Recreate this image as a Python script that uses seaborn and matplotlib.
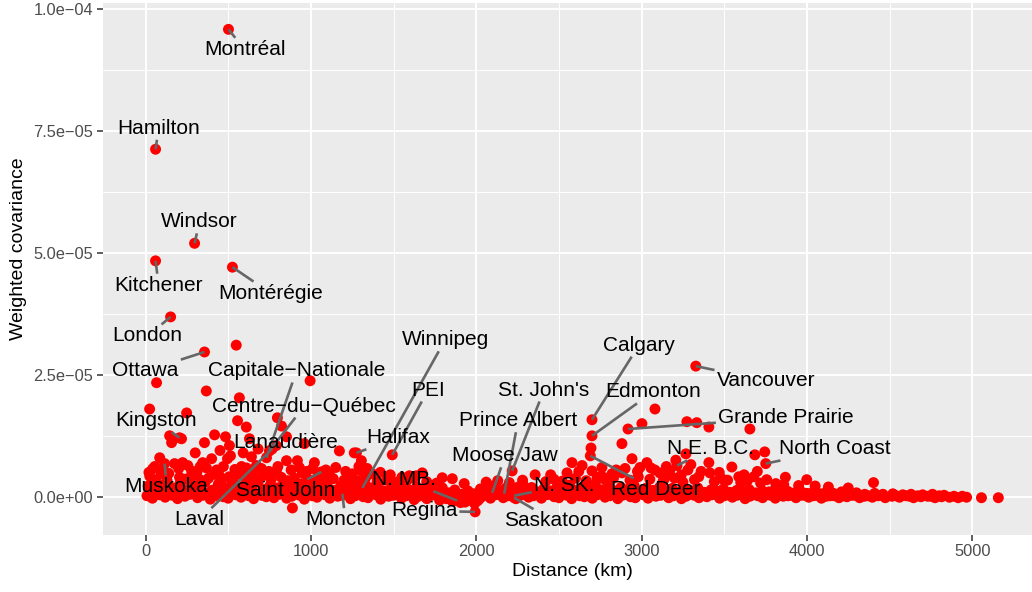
import numpy as np
import pandas as pd
import matplotlib
matplotlib.use("Agg")
import matplotlib.pyplot as plt
import seaborn as sns
from matplotlib.ticker import FixedLocator, FixedFormatter

# ---------------------------------------------------------------
# Data: distance between regions (km) and weighted covariance
# (covariance values are written in units of 1e-5)
# ---------------------------------------------------------------
city_names = ["Montréal", "Hamilton", "Windsor", "Kitchener", "Montérégie",
              "London", "Ottawa", "Capitale\u2212Nationale", "Centre\u2212du\u2212Québec",
              "Lanaudière", "Kingston", "Muskoka", "Laval", "Saint John",
              "Moncton", "Halifax", "Winnipeg", "PEI", "N. MB.", "Regina",
              "Moose Jaw", "Prince Albert", "St. John's", "Saskatoon", "N. SK.",
              "Calgary", "Edmonton", "Red Deer", "Vancouver", "Grande Prairie",
              "N.E. B.C.", "North Coast"]
city_km = [501, 60, 296, 60, 525,
           151, 356, 731, 749,
           790, 205, 115, 765, 1063,
           1190, 1275, 1311, 1492, 1885, 1993,
           2096, 2169, 2217, 2229, 2229,
           2700, 2700, 2690, 3328, 2918,
           3214, 3751]
city_cov = [9.59, 7.13, 5.20, 4.84, 4.71,
            3.69, 2.97, 0.80, 0.94,
            1.05, 1.21, 0.68, 0.98, 0.51,
            0.06, 0.90, 0.18, 0.86, -0.08, -0.31,
            0.08, 0.06, 0.53, -0.02, 0.02,
            1.58, 1.25, 0.84, 2.68, 1.39,
            0.64, 0.68]

# bulk of region pairs sitting close to zero
band_low = [(8, 0.02), (41, -0.03), (86, 0.04), (118, -0.01), (161, 0.03), (193, -0.04),
            (238, 0.01), (269, 0.05), (314, -0.02), (346, 0.03), (391, -0.05), (423, 0.02),
            (470, 0.00), (499, -0.03), (545, 0.04), (577, -0.01), (624, 0.02), (653, -0.04),
            (701, 0.03), (730, 0.00), (776, -0.02), (808, 0.05), (853, -0.03), (884, 0.01),
            (931, 0.03), (960, -0.05), (1008, 0.02), (1037, -0.01), (1085, 0.04), (1114, -0.03),
            (1162, 0.01), (1191, 0.03), (1239, -0.04), (1268, 0.02), (1316, 0.00), (1345, -0.02),
            (1393, 0.04), (1422, -0.05), (1470, 0.01), (1499, 0.03), (1547, -0.03), (1576, 0.02),
            (1624, -0.06), (1653, 0.01), (1701, -0.04), (1730, 0.03), (1778, -0.07), (1807, 0.00),
            (1855, -0.09), (1884, -0.02), (1932, -0.11), (1961, -0.05), (2009, -0.08), (2038, 0.01),
            (2086, -0.03), (2115, 0.04), (2163, -0.02), (2192, 0.02), (2240, -0.04), (2269, 0.03),
            (2317, -0.01), (2346, 0.02), (2394, -0.03), (2423, 0.04), (2471, 0.00), (2500, -0.02),
            (2548, 0.03), (2577, -0.04), (2625, 0.02), (2654, 0.00), (2702, -0.03), (2731, 0.04),
            (2779, -0.01), (2808, 0.02), (2856, -0.04), (2885, 0.03), (2933, 0.00), (2962, -0.02),
            (3010, 0.04), (3039, -0.03), (3087, 0.01), (3116, 0.03), (3164, -0.02), (3193, 0.02),
            (3241, -0.04), (3270, 0.01), (3318, 0.03), (3347, -0.02), (3395, 0.00), (3424, 0.04),
            (3472, -0.03), (3501, 0.02), (3549, -0.01), (3578, 0.03), (3626, -0.04), (3655, 0.01),
            (3703, 0.02), (3732, -0.02), (3780, 0.03), (3809, -0.03), (3857, 0.01), (3886, 0.02),
            (3934, -0.02), (3963, 0.03), (4011, -0.01), (4040, 0.02), (4088, -0.03), (4117, 0.01),
            (4165, 0.02), (4194, -0.02), (4242, 0.00), (4271, 0.03), (4319, -0.02), (4348, 0.01),
            (4396, -0.01), (4430, 0.02), (4474, -0.02), (4515, 0.01), (4560, -0.01), (4600, 0.02),
            (4645, -0.02), (4690, 0.00), (4730, 0.01), (4775, -0.02), (4815, 0.00), (4862, -0.01),
            (4915, -0.02), (4966, -0.01), (5056, -0.02), (5158, -0.02)]

band_fill = [(30, 0.10), (75, 0.06), (110, 0.14), (150, 0.08), (185, 0.12), (225, 0.07),
             (262, 0.15), (300, 0.09), (338, 0.12), (372, 0.06), (410, 0.14), (450, 0.08),
             (490, 0.11), (530, 0.07), (570, 0.13), (610, 0.09), (648, 0.12), (690, 0.06),
             (725, 0.15), (765, 0.08), (805, 0.11), (845, 0.07), (880, 0.14), (920, 0.09),
             (955, 0.12), (998, 0.06), (1035, 0.13), (1075, 0.08), (1110, 0.11), (1150, 0.07),
             (1188, 0.14), (1228, 0.09), (1265, 0.12), (1305, 0.06), (1340, 0.13), (1380, 0.08),
             (1418, 0.11), (1458, 0.07), (1495, 0.12), (1535, 0.09), (1572, 0.06), (1612, 0.10),
             (1650, 0.05), (1690, 0.09), (1728, 0.04), (1768, 0.07), (1820, -0.04), (1870, -0.06),
             (1905, -0.12), (1945, -0.08), (1990, -0.14), (2020, -0.04), (2060, 0.06), (2098, 0.10),
             (2135, 0.05), (2175, 0.09), (2210, 0.06), (2250, 0.10), (2288, 0.05), (2325, 0.09),
             (2362, 0.06), (2400, 0.10), (2440, 0.05), (2480, 0.09), (2515, 0.07), (2555, 0.11),
             (2590, 0.06), (2630, 0.10), (2670, 0.07), (2710, 0.12), (2745, 0.06), (2785, 0.10),
             (2825, 0.07), (2860, 0.11), (2900, 0.06), (2940, 0.10), (2978, 0.07), (3015, 0.11),
             (3055, 0.06), (3095, 0.09), (3132, 0.06), (3170, 0.08), (3210, 0.05), (3250, 0.08),
             (3288, 0.05), (3325, 0.07), (3365, 0.05), (3405, 0.08), (3442, 0.05), (3480, 0.07),
             (3520, 0.04), (3560, 0.07), (3598, 0.05), (3636, 0.07), (3675, 0.04), (3715, 0.06),
             (3752, 0.04), (3790, 0.06), (3830, 0.03), (3870, 0.05), (3908, 0.03), (3945, 0.05),
             (3985, 0.03), (4025, 0.05), (4062, 0.03), (4100, 0.04), (4140, 0.02), (4180, 0.04),
             (4220, 0.02), (4290, 0.03), (4370, 0.02), (4450, 0.03), (4540, 0.02), (4620, 0.01),
             (4670, 0.02), (4750, 0.01), (4800, 0.02), (4890, 0.01), (4940, 0.01)]

band_mid = [(15, 0.22), (52, 0.15), (70, 0.28), (100, 0.12), (135, 0.25), (172, 0.18),
            (210, 0.29), (250, 0.14), (285, 0.24), (325, 0.19), (360, 0.30), (400, 0.13),
            (440, 0.26), (480, 0.17), (520, 0.28), (560, 0.15), (600, 0.24), (640, 0.20),
            (680, 0.30), (715, 0.14), (755, 0.25), (795, 0.18), (835, 0.28), (870, 0.13),
            (910, 0.22), (948, 0.27), (990, 0.15), (1025, 0.24), (1065, 0.19), (1100, 0.29),
            (1140, 0.13), (1180, 0.23), (1220, 0.17), (1255, 0.27), (1295, 0.14), (1335, 0.22),
            (1370, 0.18), (1410, 0.28), (1450, 0.12), (1490, 0.21), (1525, 0.16), (1565, 0.26),
            (1605, 0.13), (1640, 0.20), (1680, 0.15), (1720, 0.24), (1760, 0.10), (1795, 0.18),
            (1835, 0.08), (1870, 0.14), (1910, 0.05), (1950, 0.12), (1985, 0.06), (2025, 0.16),
            (2065, 0.10), (2100, 0.22), (2140, 0.13), (2180, 0.18), (2215, 0.11), (2255, 0.20),
            (2295, 0.14), (2335, 0.19), (2370, 0.10), (2410, 0.17), (2450, 0.12), (2490, 0.21),
            (2530, 0.15), (2565, 0.24), (2605, 0.13), (2645, 0.20), (2685, 0.17), (2720, 0.26),
            (2760, 0.14), (2800, 0.21), (2840, 0.12), (2875, 0.19), (2915, 0.15), (2955, 0.23),
            (2995, 0.11), (3030, 0.18), (3070, 0.13), (3110, 0.20), (3150, 0.12), (3185, 0.17),
            (3225, 0.10), (3265, 0.15), (3305, 0.12), (3340, 0.18), (3380, 0.09), (3420, 0.14),
            (3460, 0.11), (3495, 0.16), (3535, 0.09), (3575, 0.13), (3615, 0.10), (3650, 0.15),
            (3690, 0.08), (3730, 0.12), (3770, 0.10), (3805, 0.14), (3845, 0.07), (3885, 0.11),
            (3925, 0.08), (3960, 0.12), (4000, 0.07), (4040, 0.10), (4080, 0.06), (4115, 0.09),
            (4160, 0.07), (4210, 0.10), (4255, 0.06), (4300, 0.08), (4350, 0.05), (4410, 0.07),
            (4460, 0.05), (4520, 0.06), (4580, 0.04), (4630, 0.05), (4700, 0.04), (4760, 0.05),
            (4830, 0.03)]

band_high = [(25, 0.42), (60, 0.35), (95, 0.47), (130, 0.33), (205, 0.40), (240, 0.36),
             (300, 0.45), (335, 0.34), (380, 0.38), (415, 0.46), (455, 0.32), (505, 0.41),
             (530, 0.35), (585, 0.44), (630, 0.37), (665, 0.31), (710, 0.43), (760, 0.36),
             (820, 0.40), (860, 0.33), (900, 0.38), (985, 0.35), (1040, 0.41), (1080, 0.32),
             (1135, 0.37), (1200, 0.34), (1230, 0.40), (1280, 0.33), (1330, 0.38), (1400, 0.31),
             (1460, 0.35), (1520, 0.30), (1580, 0.33), (1700, 0.31), (1760, 0.28), (2060, 0.30),
             (2130, 0.33), (2200, 0.29), (2280, 0.34), (2420, 0.31), (2470, 0.36), (2520, 0.32),
             (2600, 0.38), (2665, 0.33), (2740, 0.40), (2780, 0.35), (2830, 0.38), (2930, 0.34),
             (2980, 0.41), (3050, 0.36), (3130, 0.32), (3200, 0.38), (3250, 0.30), (3320, 0.35),
             (3440, 0.31), (3520, 0.34), (3600, 0.29), (3640, 0.33), (3720, 0.28), (3860, 0.25),
             (4050, 0.22), (4130, 0.20), (4250, 0.18)]

band_upper = [(20, 0.50), (55, 0.62), (140, 0.48), (200, 0.58), (255, 0.64), (310, 0.50),
              (345, 0.70), (430, 0.55), (470, 0.62), (540, 0.56), (600, 0.50), (650, 0.45),
              (700, 0.58), (745, 0.52), (800, 0.62), (880, 0.55), (930, 0.60), (975, 0.52),
              (1010, 0.58), (1090, 0.55), (1150, 0.60), (1210, 0.52), (1290, 0.62), (1340, 0.58),
              (1420, 0.50), (1480, 0.45), (1550, 0.40), (1620, 0.38), (2450, 0.45), (2620, 0.52),
              (2760, 0.60), (2900, 0.58), (2975, 0.52), (3080, 0.55), (3150, 0.62), (3280, 0.55),
              (3360, 0.52), (3470, 0.50), (3620, 0.45), (3700, 0.52), (3870, 0.40)]

scattered = [(548, 3.11), (66, 2.34), (995, 2.38), (367, 2.17), (567, 2.03), (24, 1.80),
             (248, 1.72), (556, 1.56), (609, 1.43), (797, 1.62), (822, 1.45), (145, 1.25),
             (217, 1.19), (157, 1.11), (356, 1.11), (417, 1.27), (483, 1.23), (507, 1.05),
             (513, 0.84), (628, 1.19), (852, 1.23), (960, 1.09), (1172, 0.94), (1262, 0.90),
             (1305, 0.74), (85, 0.80), (175, 0.68), (224, 0.70), (278, 0.53), (42, 0.57),
             (103, 0.53), (399, 0.78), (368, 0.59), (495, 0.78), (610, 0.59), (670, 0.64),
             (852, 0.74), (918, 0.74), (1021, 0.70), (791, 0.53), (948, 0.49), (1111, 0.47),
             (1250, 0.47), (1305, 0.53), (1371, 0.47), (888, -0.23), (1595, 0.43), (1637, 0.43),
             (266, 0.39), (447, 0.43), (550, 0.47), (680, 0.98), (590, 0.90), (450, 0.95),
             (300, 0.90), (330, 0.62), (580, 0.62), (640, 0.82), (1673, 0.49), (1794, 0.39),
             (1855, 0.37), (1927, 0.27), (2283, 0.25), (2356, 0.45),
             (2549, 0.49), (2579, 0.70), (2640, 0.64), (2700, 0.53), (2694, 1.00), (2881, 1.09),
             (2821, 0.47), (2881, 0.49), (2942, 0.78), (3032, 0.70), (2768, 0.40), (2846, 0.55),
             (2990, 0.60), (3057, 0.59), (3110, 0.49), (3170, 0.53), (3207, 0.75), (3081, 1.80),
             (3002, 1.50), (3274, 1.54), (3334, 1.52), (3407, 1.43), (3655, 1.39), (3685, 0.86),
             (3745, 0.92), (3407, 0.70), (3268, 0.88), (3298, 0.66), (3546, 0.61), (3413, 0.49),
             (3346, 0.41), (3485, 0.37), (3588, 0.41), (3679, 0.41), (3757, 0.35), (3812, 0.27),
             (3950, 0.23), (3999, 0.35), (4403, 0.29), (3240, 0.45), (3140, 0.38), (2730, 0.37)]

x_ticks = [0, 1000, 2000, 3000, 4000, 5000]
x_tick_labels = ["0", "1000", "2000", "3000", "4000", "5000"]
y_ticks = [0.0, 2.5e-05, 5.0e-05, 7.5e-05, 1.0e-04]
y_tick_labels = ["0.0e+00", "2.5e\u221205", "5.0e\u221205", "7.5e\u221205", "1.0e\u221204"]

# where each repelled label ends up (data coordinates, label centre)
label_pos = {
    "Montréal": (598, 9.18), "Hamilton": (79, 7.56), "Windsor": (326, 5.64),
    "Kitchener": (79, 4.34), "Montérégie": (755, 4.18), "London": (12, 3.30),
    "Ottawa": (0, 2.58), "Capitale\u2212Nationale": (912, 2.58),
    "Centre\u2212du\u2212Québec": (960, 1.86), "Lanaudière": (846, 1.11),
    "Kingston": (60, 1.56), "Muskoka": (127, 0.20), "Laval": (326, -0.47),
    "Saint John": (846, 0.12), "Moncton": (1208, -0.47), "Halifax": (1528, 1.21),
    "Winnipeg": (1812, 3.22), "PEI": (1709, 2.19), "N. MB.": (1564, 0.35),
    "Regina": (1685, -0.29), "Moose Jaw": (2175, 0.84), "Prince Albert": (2253, 1.56),
    "St. John's": (2410, 2.19), "Saskatoon": (2465, -0.49), "N. SK.": (2531, 0.23),
    "Calgary": (2984, 3.11), "Edmonton": (3069, 2.15), "Red Deer": (3087, 0.14),
    "Vancouver": (3751, 2.38), "Grande Prairie": (3872, 1.62), "N.E. B.C.": (3419, 0.98),
    "North Coast": (4168, 0.98),
}

SCALE = 1e-5

# ---------------------------------------------------------------
# Assemble the frame
# ---------------------------------------------------------------
unl = band_low + band_fill + band_mid + band_high + band_upper + scattered
df = pd.DataFrame({
    "km": [p[0] for p in unl] + city_km,
    "cov": [p[1] * SCALE for p in unl] + [c * SCALE for c in city_cov],
})

# ---------------------------------------------------------------
# Theme: grey panel with white grid
# ---------------------------------------------------------------
sns.set_theme(style="darkgrid", rc={
    "axes.facecolor": "#EBEBEB",
    "grid.color": "white",
    "axes.edgecolor": "#EBEBEB",
})
plt.rcParams["font.family"] = ["Liberation Sans", "DejaVu Sans"]

fig = plt.figure(figsize=(10.32, 5.92), dpi=100)
fig.patch.set_facecolor("white")
# the panel runs a little past the right edge of the canvas
ax = fig.add_axes([0.0998, 0.0971, 0.9089, 0.8978])

sns.scatterplot(data=df, x="km", y="cov", color="#FF0000", s=62,
                linewidth=0, edgecolor="none", ax=ax, zorder=2)

ax.set_xlim(-258, 5416)
ax.set_ylim(-0.775e-05, 10.13e-05)

ax.xaxis.set_major_locator(FixedLocator(x_ticks))
ax.xaxis.set_major_formatter(FixedFormatter(x_tick_labels))
ax.yaxis.set_major_locator(FixedLocator(y_ticks))
ax.yaxis.set_major_formatter(FixedFormatter(y_tick_labels))
ax.xaxis.set_minor_locator(FixedLocator([500, 1500, 2500, 3500, 4500]))
ax.yaxis.set_minor_locator(FixedLocator([1.25e-05, 3.75e-05, 6.25e-05, 8.75e-05]))

ax.grid(which="major", color="white", linewidth=1.4)
ax.grid(which="minor", color="white", linewidth=0.7)
ax.set_axisbelow(True)
for s in ax.spines.values():
    s.set_visible(False)

ax.tick_params(axis="both", which="major", length=4.5, width=1.1, color="#333333",
               labelcolor="#4D4D4D", labelsize=11.8, pad=2.5, direction="out",
               bottom=True, left=True)
ax.tick_params(axis="both", which="minor", length=0)

ax.set_xlabel("Distance (km)", fontsize=14, color="black", labelpad=3)
ax.set_ylabel("Weighted covariance", fontsize=14, color="black")
ax.yaxis.set_label_coords(-0.0906, 0.537)
ax.yaxis.label.set_verticalalignment("center")

# ---------------------------------------------------------------
# Labels with leader segments
# ---------------------------------------------------------------
texts = []
for name, kx, cy in zip(city_names, city_km, city_cov):
    lx, ly = label_pos[name]
    t = ax.text(lx, ly * SCALE, name, ha="center", va="center", fontsize=15,
                color="black", zorder=5)
    texts.append((t, kx, cy * SCALE))

fig.canvas.draw()
renderer = fig.canvas.get_renderer()
inv = ax.transData.inverted()


def entry_point(p, c, bb, pad=2.0):
    x0, y0, x1, y1 = bb.x0 - pad, bb.y0 - pad, bb.x1 + pad, bb.y1 + pad
    if x0 <= p[0] <= x1 and y0 <= p[1] <= y1:
        return None
    dx, dy = c[0] - p[0], c[1] - p[1]
    ts = []
    if dx != 0:
        for xe in (x0, x1):
            t = (xe - p[0]) / dx
            yy = p[1] + t * dy
            if 0 <= t <= 1 and y0 - 1e-6 <= yy <= y1 + 1e-6:
                ts.append(t)
    if dy != 0:
        for ye in (y0, y1):
            t = (ye - p[1]) / dy
            xx = p[0] + t * dx
            if 0 <= t <= 1 and x0 - 1e-6 <= xx <= x1 + 1e-6:
                ts.append(t)
    if not ts:
        return None
    t = min(ts)
    return (p[0] + t * dx, p[1] + t * dy)


for t, kx, cy in texts:
    bb = t.get_window_extent(renderer)
    p = ax.transData.transform((kx, cy))
    c = ((bb.x0 + bb.x1) / 2, (bb.y0 + bb.y1) / 2)
    e = entry_point(p, c, bb)
    if e is None:
        continue
    if np.hypot(e[0] - p[0], e[1] - p[1]) < 5:
        continue
    d0 = inv.transform(p)
    d1 = inv.transform(e)
    ax.plot([d0[0], d1[0]], [d0[1], d1[1]], color="#666666", linewidth=1.9,
            solid_capstyle="butt", zorder=4)

fig.savefig("out.png", dpi=100, facecolor="white")
